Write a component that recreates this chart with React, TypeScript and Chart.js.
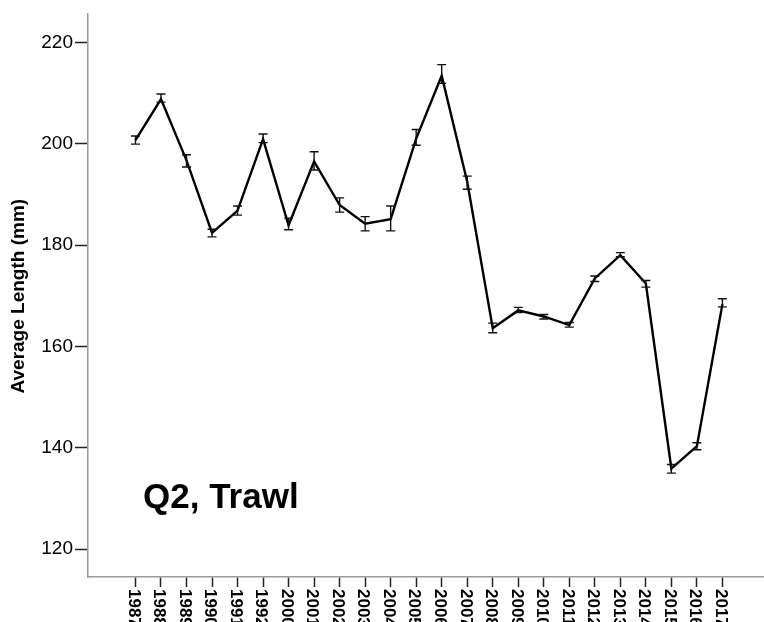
import React, { useEffect, useRef } from "react";
import { Chart, registerables } from "chart.js";

Chart.register(...registerables);

const years = [
  "1987", "1988", "1989", "1990", "1991", "1992", "2000", "2001", "2002", "2003", "2004", "2005",
  "2006", "2007", "2008", "2009", "2010", "2011", "2012", "2013", "2014", "2015", "2016", "2017",
];
const meanLength = [
  200.7, 208.8, 196.7, 182.4, 186.8, 200.9, 183.9, 196.5, 187.9, 184.2, 185.1, 201.0,
  213.4, 192.5, 163.6, 167.1, 165.9, 164.2, 173.4, 178.0, 172.4, 135.9, 140.3, 168.3,
];
const lowerCI = [
  199.9, 208.2, 195.4, 181.6, 185.9, 200.2, 183.0, 194.8, 186.5, 182.8, 182.8, 199.7,
  211.9, 191.0, 162.7, 166.7, 165.4, 163.8, 172.8, 177.7, 171.7, 135.0, 139.6, 167.8,
];
const upperCI = [
  201.5, 209.8, 197.8, 183.1, 187.7, 201.9, 185.3, 198.4, 189.3, 185.6, 187.7, 202.8,
  215.6, 193.6, 164.6, 167.7, 166.3, 164.7, 173.9, 178.5, 173.0, 136.7, 141.0, 169.4,
];
const yTicks = [120, 140, 160, 180, 200, 220];
const yTitle = "Average Length (mm)";
const panelLabel = "Q2, Trawl";

const FONT = 'Arial, "Liberation Sans", sans-serif';

const overlayPlugin = {
  id: "overlay",
  afterDatasetsDraw(chart: any) {
    const ctx = chart.ctx;
    const xs = chart.scales.x;
    const ys = chart.scales.y;
    ctx.save();
    ctx.strokeStyle = "#111";
    ctx.lineWidth = 1.4;
    for (let i = 0; i < meanLength.length; i++) {
      const x = xs.getPixelForValue(i);
      const yl = ys.getPixelForValue(lowerCI[i]);
      const yu = ys.getPixelForValue(upperCI[i]);
      ctx.beginPath();
      ctx.moveTo(x, yl);
      ctx.lineTo(x, yu);
      ctx.moveTo(x - 4.5, yl);
      ctx.lineTo(x + 4.5, yl);
      ctx.moveTo(x - 4.5, yu);
      ctx.lineTo(x + 4.5, yu);
      ctx.stroke();
    }
    ctx.restore();
  },
  afterDraw(chart: any) {
    const ctx = chart.ctx;
    const xs = chart.scales.x;
    const area = chart.chartArea;
    ctx.save();
    ctx.fillStyle = "#000";
    ctx.font = `bold 17px ${FONT}`;
    ctx.textAlign = "left";
    ctx.textBaseline = "middle";
    for (let i = 0; i < years.length; i++) {
      const x = xs.getPixelForValue(i);
      ctx.save();
      ctx.translate(x - 2, area.bottom + 12);
      ctx.rotate(Math.PI / 2);
      ctx.fillText(years[i], 0, 0);
      ctx.restore();
    }
    ctx.save();
    ctx.font = `bold 19px ${FONT}`;
    ctx.textAlign = "center";
    ctx.textBaseline = "middle";
    ctx.translate(19, (area.top + area.bottom) / 2 + 1);
    ctx.rotate(-Math.PI / 2);
    ctx.fillText(yTitle, 0, 0);
    ctx.restore();
    ctx.font = `bold 35px ${FONT}`;
    ctx.textAlign = "left";
    ctx.textBaseline = "alphabetic";
    ctx.fillText(panelLabel, area.left + 55, area.bottom - 69);
    ctx.restore();
  },
};

export default function App() {
  const ref = useRef<HTMLCanvasElement | null>(null);
  useEffect(() => {
    if (!ref.current) return;
    const chart = new Chart(ref.current, {
      type: "line",
      data: {
        datasets: [
          {
            data: meanLength.map((v, i) => ({ x: i, y: v })),
            borderColor: "#000",
            borderWidth: 2.4,
            pointRadius: 0,
            tension: 0,
            fill: false,
          },
        ],
      },
      options: {
        animation: false,
        responsive: false,
        devicePixelRatio: 1,
        layout: { padding: { top: 13, right: 0, left: 0, bottom: 0 } },
        plugins: { legend: { display: false }, tooltip: { enabled: false }, title: { display: false } },
        scales: {
          x: {
            type: "linear",
            min: -1.86,
            max: 24.63,
            afterBuildTicks: (s: any) => {
              s.ticks = years.map((_, i) => ({ value: i }));
            },
            afterFit: (s: any) => {
              s.height = 45;
            },
            ticks: { display: false },
            grid: {
              display: true,
              drawOnChartArea: false,
              drawTicks: true,
              tickLength: 10,
              tickWidth: 1.5,
              tickColor: "#222",
            },
            border: { display: true, color: "#9a9a9a", width: 1.5 },
          },
          y: {
            type: "linear",
            min: 114.5,
            max: 225.7,
            afterBuildTicks: (s: any) => {
              s.ticks = yTicks.map((v) => ({ value: v }));
            },
            afterFit: (s: any) => {
              s.width = 88;
            },
            ticks: {
              color: "#000",
              font: { family: FONT, size: 19 },
              padding: 2,
            },
            grid: {
              display: true,
              drawOnChartArea: false,
              drawTicks: true,
              tickLength: 13,
              tickWidth: 1.5,
              tickColor: "#222",
            },
            border: { display: true, color: "#9a9a9a", width: 1.5 },
          },
        },
      },
      plugins: [overlayPlugin],
    });
    return () => chart.destroy();
  }, []);
  return (
    <div style={{ position: "fixed", top: 0, left: 0, width: 764, height: 622, background: "#fff" }}>
      <canvas ref={ref} width={764} height={622} style={{ display: "block" }} />
    </div>
  );
}
